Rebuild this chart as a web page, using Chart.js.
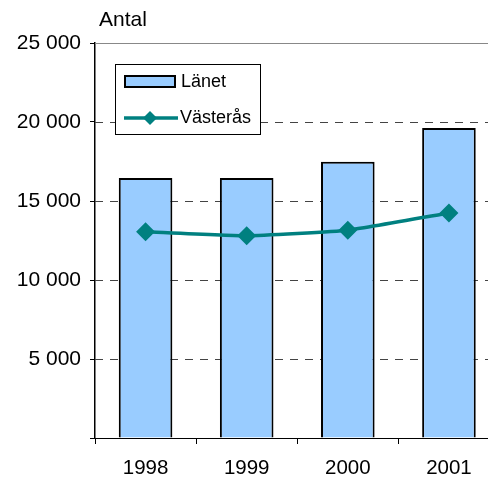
<!DOCTYPE html>
<html lang="sv">
<head>
  <meta charset="UTF-8" />
  <title>Antal</title>
  <script src="https://cdn.jsdelivr.net/npm/chart.js"></script>
  <style>
    body {
      margin: 0;
      background: white;
      overflow: hidden;
      width: 488px;
      height: 477px;
    }
    .wrap {
      width: 510px;
      height: 477px;
    }
  </style>
</head>
<body>
  <div class="wrap">
    <canvas id="chart" width="510" height="477"></canvas>
  </div>

  <script>
    const years = ["1998", "1999", "2000", "2001"];
    const lanet = [16450, 16450, 17490, 19620];
    const vasteras = [13060, 12800, 13150, 14240];
    const yTicks = [0, 5000, 10000, 15000, 20000, 25000];

    const FONT = "Arial, 'Liberation Sans', sans-serif";

    // legend box drawn inside the plot, plus the "Antal" caption
    const extras = {
      id: "extras",
      afterDraw(chart) {
        const ctx = chart.ctx;
        ctx.save();
        ctx.fillStyle = "#000";
        ctx.font = "21px " + FONT;
        ctx.textBaseline = "middle";
        ctx.textAlign = "left";
        ctx.fillText("Antal", 99, 20);

        // legend frame
        ctx.fillStyle = "#fff";
        ctx.fillRect(115.5, 64.5, 145, 70);
        ctx.strokeStyle = "#000";
        ctx.lineWidth = 1;
        ctx.strokeRect(115.5, 64.5, 145, 70);

        const bar = chart.data.datasets[0];
        const line = chart.data.datasets[1];

        ctx.fillStyle = bar.backgroundColor;
        ctx.fillRect(125, 76, 50, 11);
        ctx.lineWidth = 2;
        ctx.strokeRect(125, 76, 50, 11);

        ctx.strokeStyle = line.borderColor;
        ctx.lineWidth = 3.5;
        ctx.beginPath();
        ctx.moveTo(124, 118);
        ctx.lineTo(178, 118);
        ctx.stroke();
        ctx.fillStyle = line.borderColor;
        ctx.beginPath();
        ctx.moveTo(150, 111);
        ctx.lineTo(157, 118);
        ctx.lineTo(150, 125);
        ctx.lineTo(143, 118);
        ctx.closePath();
        ctx.fill();

        ctx.fillStyle = "#000";
        ctx.font = "18px " + FONT;
        ctx.fillText(bar.label, 181, 82);
        ctx.fillText(line.label, 180, 118);
        ctx.restore();
      }
    };

    new Chart(document.getElementById("chart"), {
      data: {
        labels: years,
        datasets: [
          {
            type: "bar",
            label: "Länet",
            data: lanet,
            backgroundColor: "#99CCFF",
            borderColor: "#000",
            borderWidth: 2,
            categoryPercentage: 1,
            barPercentage: 0.53,
            order: 2
          },
          {
            type: "line",
            label: "Västerås",
            data: vasteras,
            borderColor: "#008080",
            backgroundColor: "#008080",
            borderWidth: 3.5,
            pointStyle: "rectRot",
            pointRadius: 7,
            pointHoverRadius: 7,
            tension: 0.12,
            order: 1
          }
        ]
      },
      options: {
        responsive: false,
        animation: false,
        layout: { padding: { top: 43, right: 9, left: 0, bottom: 0 } },
        plugins: {
          legend: { display: false },
          tooltip: { enabled: false }
        },
        scales: {
          x: {
            offset: true,
            grid: {
              offset: true,
              drawOnChartArea: false,
              color: "#000",
              tickLength: 6,
              tickColor: "#000"
            },
            border: { color: "#000", width: 1 },
            ticks: {
              color: "#000",
              font: { family: FONT, size: 20.5 },
              padding: 12
            },
            afterFit(scale) { scale.height = 39; }
          },
          y: {
            min: 0,
            max: 25000,
            afterBuildTicks(scale) {
              scale.ticks = yTicks.map(v => ({ value: v }));
            },
            grid: {
              drawOnChartArea: false,
              tickLength: 5,
              tickColor: "#000",
              drawTicks: true
            },
            border: { color: "#000", width: 1.5, display: true },
            ticks: {
              color: "#000",
              font: { family: FONT, size: 21 },
              padding: 9,
              callback: v => v === 0 ? "" : String(v).replace(/\B(?=(\d{3})+(?!\d))/g, " ")
            },
            afterFit(scale) { scale.width = 95; }
          }
        }
      },
      plugins: [extras, {
        id: "dashGrid",
        beforeDatasetsDraw(chart) {
          // dashed horizontal gridlines, drawn before bars
          const y = chart.scales.y;
          const area = chart.chartArea;
          const ctx = chart.ctx;
          ctx.save();
          ctx.strokeStyle = "#444";
          ctx.lineWidth = 1;
          ctx.setLineDash([8, 7]);
          [5000, 10000, 15000, 20000].forEach(v => {
            const py = Math.round(y.getPixelForValue(v)) + 0.5;
            ctx.beginPath();
            ctx.moveTo(area.left, py);
            ctx.lineTo(area.right, py);
            ctx.stroke();
          });
          ctx.setLineDash([]);
          ctx.strokeStyle = "#888";
          const top = Math.round(area.top) + 0.5;
          ctx.beginPath();
          ctx.moveTo(area.left, top);
          ctx.lineTo(area.right, top);
          ctx.stroke();
          ctx.restore();
        }
      }]
    });
  </script>
</body>
</html>
